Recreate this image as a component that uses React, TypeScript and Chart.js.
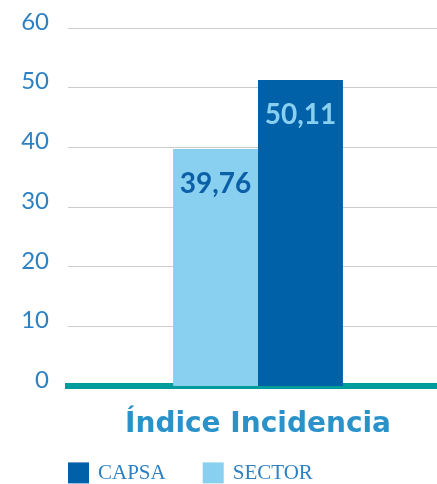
import React, { useEffect, useRef } from "react";
import { Chart, registerables } from "chart.js";

Chart.register(...registerables);

const categories = ["Índice Incidencia"];
const seriesNames = ["SECTOR", "CAPSA"];
const sectorValues = [39.76];
const capsaValues = [51.3];
const valueLabels = ["39,76", "50,11"];
const yTicks = [0, 10, 20, 30, 40, 50, 60];
const legendOrder = ["CAPSA", "SECTOR"];

const COLORS = {
  SECTOR: "#88cff0",
  CAPSA: "#0060a8",
  tick: "#2f80c1",
  grid: "#cccccc",
  teal: "#009b9b",
  category: "#2a92c9",
  labelSector: "#0a5fa6",
  labelCapsa: "#88cff0",
};

const valueLabelPlugin = {
  id: "valueLabels",
  afterDatasetsDraw(chart: any) {
    const ctx = chart.ctx;
    ctx.save();
    ctx.font = "bold 28px Lato";
    ctx.textAlign = "center";
    ctx.textBaseline = "middle";
    chart.data.datasets.forEach((ds: any, di: number) => {
      const meta = chart.getDatasetMeta(di);
      meta.data.forEach((bar: any) => {
        ctx.fillStyle = ds.label === "SECTOR" ? COLORS.labelSector : COLORS.labelCapsa;
        ctx.fillText(ds.valueLabel, bar.x, bar.y + 35);
      });
    });
    ctx.restore();
  },
};

const legendPlugin = {
  id: "customLegend",
  afterDraw(chart: any) {
    const ctx = chart.ctx;
    const left = chart.chartArea.left;
    const top = chart.chartArea.bottom + 76;
    const box = 21;
    const gap = 9;
    const itemGap = 37;
    ctx.save();
    ctx.font = "21px 'Liberation Serif'";
    ctx.textBaseline = "middle";
    ctx.textAlign = "left";
    let x = left;
    legendOrder.forEach((name) => {
      const ds = chart.data.datasets.find((d: any) => d.label === name);
      ctx.fillStyle = ds.backgroundColor;
      ctx.fillRect(x, top, box, box);
      x += box + gap;
      ctx.fillStyle = COLORS.tick;
      ctx.fillText(name, x, top + box / 2 + 1);
      x += ctx.measureText(name).width + itemGap;
    });
    ctx.restore();
  },
};

export default function App() {
  const ref = useRef<HTMLCanvasElement | null>(null);
  useEffect(() => {
    if (!ref.current) return;
    const chart = new Chart(ref.current, {
      type: "bar",
      data: {
        labels: categories,
        datasets: [
          {
            label: seriesNames[0],
            data: sectorValues,
            backgroundColor: COLORS.SECTOR,
            valueLabel: valueLabels[0],
            categoryPercentage: 0.447,
            barPercentage: 1,
          } as any,
          {
            label: seriesNames[1],
            data: capsaValues,
            backgroundColor: COLORS.CAPSA,
            valueLabel: valueLabels[1],
            categoryPercentage: 0.447,
            barPercentage: 1,
          } as any,
        ],
      },
      options: {
        animation: false,
        responsive: true,
        maintainAspectRatio: false,
        layout: { padding: { left: 21, right: 0, top: 28, bottom: 28 } },
        scales: {
          x: {
            z: 1,
            grid: { display: false },
            border: { display: true, color: COLORS.teal, width: 6 },
            ticks: {
              color: COLORS.category,
              font: { family: "DejaVu Sans", size: 28, weight: "bold" },
              padding: 14,
            },
          },
          y: {
            min: 0,
            max: 60,
            afterBuildTicks: (scale: any) => {
              scale.ticks = yTicks.map((v) => ({ value: v }));
            },
            afterFit: (scale: any) => {
              scale.width = 47;
              scale.paddingTop = 0;
              scale.paddingBottom = 0;
            },
            grid: { color: COLORS.grid, drawTicks: false, lineWidth: 1 },
            border: { display: false },
            ticks: {
              color: COLORS.tick,
              font: { family: "Lato", size: 24, weight: "normal" },
              padding: 19,
              labelOffset: -6,
            },
          },
        },
        plugins: {
          tooltip: { enabled: false },
          legend: { display: false },
        },
      },
      plugins: [valueLabelPlugin, legendPlugin],
    });
    return () => chart.destroy();
  }, []);
  return (
    <div style={{ position: "fixed", left: 0, top: 0, width: 437, height: 484, overflow: "hidden" }}>
      <div style={{ position: "relative", width: 448, height: 484 }}>
        <canvas ref={ref} />
      </div>
    </div>
  );
}
